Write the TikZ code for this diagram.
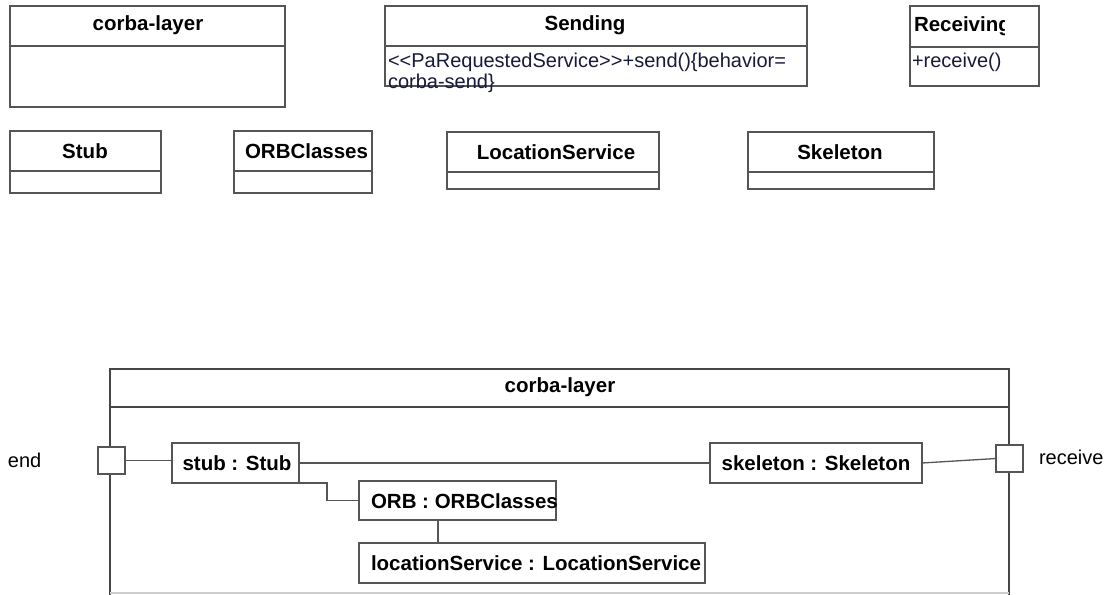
\documentclass[tikz,border=0pt]{standalone}
\usepackage{fontspec}
\setmainfont{Liberation Sans}
\definecolor{linegray}{RGB}{85,85,85}
\definecolor{framegray}{RGB}{70,70,70}
\definecolor{attrblue}{RGB}{25,25,60}
\definecolor{lightedge}{RGB}{205,205,205}
\begin{document}
\begin{tikzpicture}[x=1pt,y=-1pt,
  every node/.style={font=\fontsize{20.5}{24}\selectfont, inner sep=0pt, outer sep=0pt},
  umlbox/.style={draw=linegray, line width=1.3pt, fill=white, anchor=north west},
  title/.style={font=\fontsize{20.5}{24}\selectfont\bfseries, text=black},
  attr/.style={font=\fontsize{20}{24}\selectfont, text=attrblue, anchor=west},
  plain/.style={font=\fontsize{20}{24}\selectfont, text=black},
  conn/.style={draw=linegray, line width=1.3pt},
  portbox/.style={draw=linegray, line width=1.3pt, fill=white, minimum width=27pt, minimum height=27pt, anchor=north west},
  partbox/.style={draw=linegray, line width=1.3pt, fill=white, anchor=north west}]
\useasboundingbox (0,0) rectangle (1110,594);
\clip (0,0) rectangle (1110,594);

% ---------- top class boxes ----------
\node[umlbox, minimum width=275pt, minimum height=101pt] (cl) at (10,6) {};
\draw[conn] (cl.west |- 0,46) -- (cl.east |- 0,46);
\node[title] (clt) at (148,25) {corba-layer};

\node[umlbox, minimum width=422pt, minimum height=80pt] (snd) at (385,6) {};
\draw[conn] (snd.west |- 0,46) -- (snd.east |- 0,46);
\node[title] (sndt) at (585,25) {Sending};
\node[attr] (snda1) at (388,62) {{<}{<}PaRequestedService{>}{>}+send()\{behavior=};
\node[attr] (snda2) at (388,83) {corba-send\}};

\node[umlbox, minimum width=129pt, minimum height=80pt] (rcv) at (910,6) {};
\draw[conn] (rcv.west |- 0,47) -- (rcv.east |- 0,47);
\begin{scope}
  \clip (910,6) rectangle (1004,46);
  \node[title, anchor=west] (rcvt) at (914,26) {Receiving};
\end{scope}
\node[attr] (rcva) at (912,62) {+receive()};

\node[umlbox, minimum width=151pt, minimum height=62pt] (stubc) at (10,131) {};
\draw[conn] (stubc.west |- 0,171) -- (stubc.east |- 0,171);
\node[title] (stubt) at (85,151) {Stub};

\node[umlbox, minimum width=138pt, minimum height=62pt] (orbc) at (234,131) {};
\draw[conn] (orbc.west |- 0,171) -- (orbc.east |- 0,171);
\begin{scope}
  \clip (234,131) rectangle (372,171);
  \node[title, anchor=west] (orbt) at (245,151) {ORBClasses};
\end{scope}

\node[umlbox, minimum width=212pt, minimum height=57pt] (locc) at (447,132) {};
\draw[conn] (locc.west |- 0,172) -- (locc.east |- 0,172);
\node[title] (loct) at (556,152) {LocationService};

\node[umlbox, minimum width=186pt, minimum height=57pt] (skelc) at (748,132) {};
\draw[conn] (skelc.west |- 0,172) -- (skelc.east |- 0,172);
\node[title] (skelt) at (840,152) {Skeleton};

% ---------- composite structure ----------
\node[draw=framegray, line width=2pt, anchor=north west, minimum width=899pt, minimum height=250pt] (frame) at (110,369) {};
\draw[draw=framegray, line width=2pt] (frame.west |- 0,407) -- (frame.east |- 0,407);
\node[title] (framet) at (560,387) {corba-layer};
\draw[lightedge, line width=1.5pt] (frame.west |- 0,593) -- (frame.east |- 0,593);

\node[portbox] (portL) at (98,447) {};
\node[portbox] (portR) at (996,445) {};
\node[plain, anchor=west] (endl) at (8,460) {end};
\node[plain, anchor=west] (recl) at (1039,457) {receive};

\node[partbox, minimum width=127pt, minimum height=40pt] (stub) at (172,443) {};
\node[title] (stubn) at (237,463) {stub : Stub};

\node[partbox, minimum width=212pt, minimum height=40pt] (skel) at (710,443) {};
\node[title] (skeln) at (816,463) {skeleton : Skeleton};

\node[partbox, minimum width=197pt, minimum height=39pt] (orb) at (359,481) {};
\node[title, anchor=west] (orbn) at (371,501) {ORB : ORBClasses};

\node[partbox, minimum width=346pt, minimum height=40pt] (loc) at (359,543) {};
\node[title, anchor=west] (locn) at (371,563) {locationService : LocationService};

% connectors
\draw[conn] (portL.east) -- (portL.east -| stub.west);
\draw[conn] (stub.east) -- (skel.west);
\draw[conn] (skel.east) -- (portR.west);
\coordinate (bend) at (327,483);
\draw[conn] (stub.south east) -- (bend) |- (orb.west);
\draw[conn] ([xshift=79pt]orb.south west) -- ([xshift=79pt]loc.north west);
\end{tikzpicture}
\end{document}
